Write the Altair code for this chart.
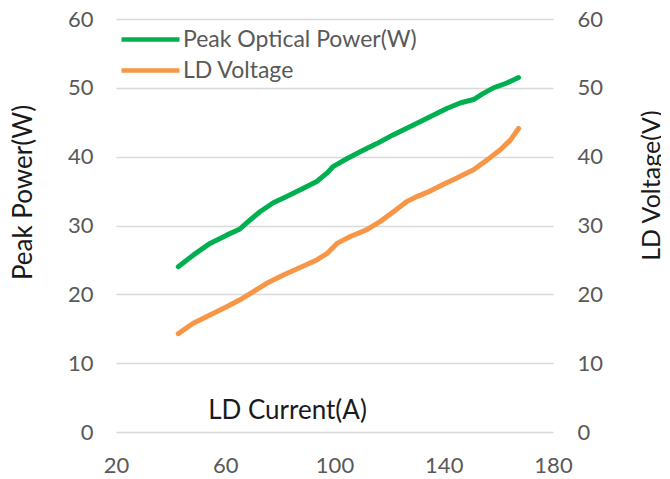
import altair as alt
import pandas as pd

# LD current (A) for the peak optical power series
current_power = [42.8, 48.3, 54.4, 60.5, 65.4, 69.1, 72.7, 77.6, 82.5, 88.6, 93.5,
                 97.2, 99.6, 104.5, 109.4, 115.5, 121.6, 128.9, 135.0, 141.1, 146.0,
                 150.9, 154.5, 158.2, 163.1, 167.4]
peak_power = [24.0, 25.7, 27.4, 28.6, 29.5, 30.8, 32.0, 33.3, 34.2, 35.4, 36.4,
              37.6, 38.6, 39.7, 40.7, 41.9, 43.2, 44.6, 45.8, 47.0, 47.8,
              48.3, 49.2, 50.0, 50.7, 51.5]

# LD current (A) for the LD voltage series
current_volt = [42.8, 48.3, 54.4, 60.5, 65.4, 70.3, 75.2, 81.3, 87.4, 93.5, 97.2,
                100.9, 105.8, 111.9, 116.8, 121.6, 126.5, 130.2, 135.0, 139.9, 144.8,
                150.9, 155.8, 160.7, 164.4, 167.4]
ld_voltage = [14.3, 15.8, 17.0, 18.2, 19.2, 20.4, 21.6, 22.8, 23.9, 25.0, 25.9,
              27.4, 28.4, 29.4, 30.6, 32.0, 33.5, 34.2, 35.0, 36.0, 36.9,
              38.1, 39.5, 41.0, 42.4, 44.1]

x_ticks = [20, 60, 100, 140, 180]
y_ticks = [0, 10, 20, 30, 40, 50, 60]
series_names = ["Peak Optical Power(W)", "LD Voltage"]
series_colors = ["#00b050", "#f79646"]

df_p = pd.DataFrame({"current": current_power, "value": peak_power, "series": series_names[0]})
df_v = pd.DataFrame({"current": current_volt, "value": ld_voltage, "series": series_names[1]})

FONT = "Lato"
LABEL_COLOR = "#595959"

x = alt.X(
    "current:Q",
    scale=alt.Scale(domain=[20, 180], nice=False, zero=False),
    axis=alt.Axis(values=x_ticks, title="LD Current(A)", titleX=171, titleY=-22,
                  titleAlign="center", titleBaseline="middle", titleFontSize=26,
                  grid=False, domain=False, ticks=False, tickSize=0, labelPadding=23,
                  labelFlush=False),
)

color = alt.Color(
    "series:N",
    scale=alt.Scale(domain=series_names, range=series_colors),
    legend=alt.Legend(title=None, orient="none", legendX=22, legendY=8,
                      symbolType="M-2.9,0H2.9", symbolSize=400, symbolStrokeWidth=4.5,
                      labelFontSize=23, labelFont=FONT, labelColor=LABEL_COLOR,
                      labelOffset=20, labelLimit=500, rowPadding=6, padding=0),
)

power = alt.Chart(df_p).mark_line(strokeWidth=5, strokeCap="round", strokeJoin="round").encode(
    x=x,
    y=alt.Y("value:Q", scale=alt.Scale(domain=[0, 60], nice=False),
            axis=alt.Axis(orient="left", values=y_ticks, title="Peak Power(W)",
                          titleX=-93, titleY=173, titleAngle=270, titleAlign="center",
                          titleBaseline="middle", grid=True, gridColor="#d9d9d9",
                          gridWidth=1.5, domain=False, ticks=False, tickSize=0,
                          labelPadding=23)),
    color=color,
)

volt = alt.Chart(df_v).mark_line(strokeWidth=5, strokeCap="round", strokeJoin="round").encode(
    x=x,
    y=alt.Y("value:Q", scale=alt.Scale(domain=[0, 60], nice=False),
            axis=alt.Axis(orient="right", values=y_ticks, title="LD Voltage(V)",
                          titleX=98, titleY=166, titleAngle=270, titleAlign="center",
                          titleBaseline="middle", titleFontSize=25, grid=False,
                          domain=False, ticks=False, tickSize=0, labelPadding=24)),
    color=color,
)

chart = alt.layer(power, volt).resolve_scale(y="independent").properties(
    width=437, height=413,
    autosize=alt.AutoSizeParams(type="none"),
    padding={"left": 108, "top": 11, "right": 108, "bottom": 45},
).configure_view(stroke=None).configure_axis(
    labelFont=FONT, labelFontSize=22, labelColor=LABEL_COLOR,
    titleFont=FONT, titleFontSize=26, titleFontWeight="normal", titleColor="#1a1a1a",
)

chart.save("out.html", embed_options={"renderer": "svg", "actions": False})
